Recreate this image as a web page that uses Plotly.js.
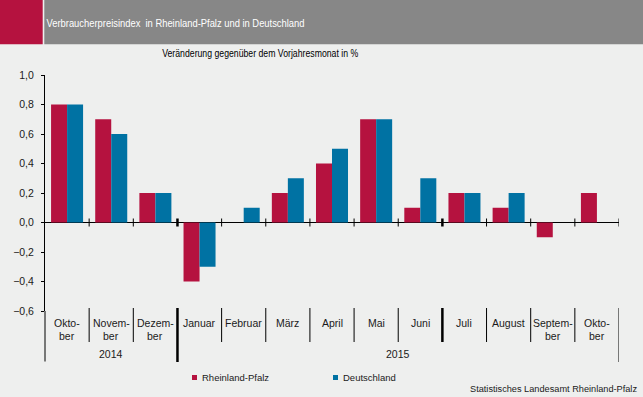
<!DOCTYPE html>
<html>
<head>
<meta charset="utf-8">
<script src="https://cdn.plot.ly/plotly-3.0.1.min.js"></script>
<style>html,body{margin:0;padding:0;background:#eeefee;}#chart{width:643px;height:397px;}</style>
</head>
<body>
<div id="chart"></div>
<script>
// ---- data ----
const periods = ["2014-10","2014-11","2014-12","2015-01","2015-02","2015-03","2015-04","2015-05","2015-06","2015-07","2015-08","2015-09","2015-10"];
const monthLabels = ["Okto-<br>ber","Novem-<br>ber","Dezem-<br>ber","Januar","Februar","März","April","Mai","Juni","Juli","August","Septem-<br>ber","Okto-<br>ber"];
const yearLabels = ["2014","2015"];
const rheinlandPfalz = [0.8, 0.7, 0.2, -0.4, 0.0, 0.2, 0.4, 0.7, 0.1, 0.2, 0.1, -0.1, 0.2];
const deutschland    = [0.8, 0.6, 0.2, -0.3, 0.1, 0.3, 0.5, 0.7, 0.3, 0.2, 0.2, 0.0, null];
const seriesNames = ["Rheinland-Pfalz","Deutschland"];
const titleText = "Verbraucherpreisindex  in Rheinland-Pfalz und in Deutschland";
const subtitleText = "Veränderung gegenüber dem Vorjahresmonat in %";
const sourceText = "Statistisches Landesamt Rheinland-Pfalz";

// ---- layout geometry ----
const W = 643, H = 397, L = 45, R = 24, T = 75, B = 86;
const PW = W - L - R, PH = H - T - B;
const px = x => (x - L) / PW;          // pixel -> paper x
const py = y => (H - B - y) / PH;      // pixel -> paper y
const RED = '#b5123f', BLUE = '#0072a3', GRAY = '#878787';
const fontReg = 'Liberation Sans, Arial, sans-serif';

const traces = [
  {type:'bar', x: periods, y: rheinlandPfalz, name: seriesNames[0], marker:{color: RED}, hoverinfo:'y'},
  {type:'bar', x: periods, y: deutschland, name: seriesNames[1], marker:{color: BLUE}, hoverinfo:'y'}
];

const shapes = [];
const annotations = [];
// header
shapes.push({type:'rect', xref:'paper', yref:'paper', x0:px(0), x1:px(42.7), y0:py(44.3), y1:py(0), fillcolor:RED, line:{width:0}, layer:'below'});
shapes.push({type:'rect', xref:'paper', yref:'paper', x0:px(44.3), x1:px(643), y0:py(44.3), y1:py(0), fillcolor:GRAY, line:{width:0}, layer:'below'});

// boundary ticks on zero line and separators under plot
const yearOf = periods.map(p => p.slice(0,4));
for (let i = 0; i < periods.length; i++) {
  const b = i + 0.5;
  const last = i === periods.length - 1;
  const yearBreak = !last && yearOf[i] !== yearOf[i+1];
  const thick = yearBreak || (i === 8);
  const w = thick ? 2.5 : 1;
  shapes.push({type:'line', xref:'x', yref:'y', x0:b, x1:b, ysizemode:'pixel', yanchor:0, y0:-4, y1:4, line:{color:'#000', width:w}});
  const long = yearBreak || last;
  shapes.push({type:'line', xref:'x', yref:'paper', x0:b, x1:b, y0:py(308), y1:py(long ? 362 : 342), line:{color:'#000', width: last ? 1 : w}});
}
// y-axis extension below the plot
shapes.push({type:'line', xref:'paper', yref:'paper', x0:0, x1:0, y0:0, y1:py(361.5), line:{color:'#000', width:1}});

// month labels (one annotation per text line, 12px line spacing)
monthLabels.forEach((t, i) => t.split('<br>').forEach((line, k) => annotations.push({x: i, xref:'x', y: py(323.3 + 12.3*k), yref:'paper', text: line, showarrow:false, xanchor:'center', yanchor:'middle', font:{family:fontReg, size:10.5, color:'#1a1a1a'}})));
// year labels
yearLabels.forEach(yr => {
  const idx = yearOf.map((v,i)=>v===yr?i:-1).filter(i=>i>=0);
  const c = (idx[0] + idx[idx.length-1]) / 2;
  annotations.push({x: c, xref:'x', y: py(354), yref:'paper', text: yr, showarrow:false, xanchor:'center', yanchor:'middle', font:{family:fontReg, size:10.5, color:'#1a1a1a'}});
});
// subtitle
annotations.push({x: px(260), xref:'paper', y: py(53.5), yref:'paper', text: subtitleText, showarrow:false, xanchor:'center', yanchor:'middle', font:{family:fontReg, size:10.5, color:'#000'}, name:'subtitle'});
// legend (manual)
const legendPos = [[192, 200], [333, 340.7]];
seriesNames.forEach((n, k) => {
  const [sx, tx] = legendPos[k];
  shapes.push({type:'rect', xref:'paper', yref:'paper', x0:px(sx), x1:px(sx+5), y0:py(380), y1:py(375), fillcolor: k===0?RED:BLUE, line:{width:0}});
  annotations.push({x: px(tx), xref:'paper', y: py(377.5), yref:'paper', text: n, showarrow:false, xanchor:'left', yanchor:'middle', font:{family:fontReg, size:9.5, color:'#1a1a1a'}});
});
// source
annotations.push({x: px(638.5), xref:'paper', y: py(388.5), yref:'paper', text: sourceText, showarrow:false, xanchor:'right', yanchor:'middle', font:{family:fontReg, size:9.2, color:'#1a1a1a'}});

const layout = {
  width: W, height: H,
  margin: {l:L, r:R, t:T, b:B, pad:0},
  paper_bgcolor: '#eeefee', plot_bgcolor: '#eeefee',
  separators: ',.',
  showlegend: false,
  barmode: 'group', bargap: 0.275, bargroupgap: 0,
  title: {text: titleText, x: 46.5/W, xref:'container', xanchor:'left', y: 1 - 22.5/H, yref:'container', yanchor:'middle', font:{family:fontReg, size:11.5, color:'#ffffff'}},
  xaxis: {type:'category', categoryorder:'array', categoryarray: periods, range:[-0.5, periods.length-0.5], showticklabels:false, ticks:'', showgrid:false, zeroline:false, showline:false, fixedrange:true},
  yaxis: {range:[-0.6, 1.0], dtick:0.2, tick0:0, tickformat:'.1f', ticks:'outside', ticklen:3, tickwidth:1, tickcolor:'#000', showline:true, linecolor:'#000', linewidth:1, showgrid:false, zeroline:true, zerolinecolor:'#000', zerolinewidth:1, tickfont:{family:fontReg, size:10.5, color:'#1a1a1a'}, ticklabelstandoff:5, fixedrange:true},
  shapes, annotations
};
Plotly.newPlot('chart', traces, layout, {displayModeBar:false, staticPlot:true}).then(gd => {
  // the original uses a condensed face: squeeze title and subtitle to their measured widths
  const squeeze = (el, w) => { if (el) { el.setAttribute('textLength', w); el.setAttribute('lengthAdjust', 'spacingAndGlyphs'); } };
  squeeze(gd.querySelector('.gtitle'), 258);
  gd.querySelectorAll('.annotation-text').forEach(t => { if (t.textContent === subtitleText) squeeze(t, 196); });
});
</script>
</body>
</html>
